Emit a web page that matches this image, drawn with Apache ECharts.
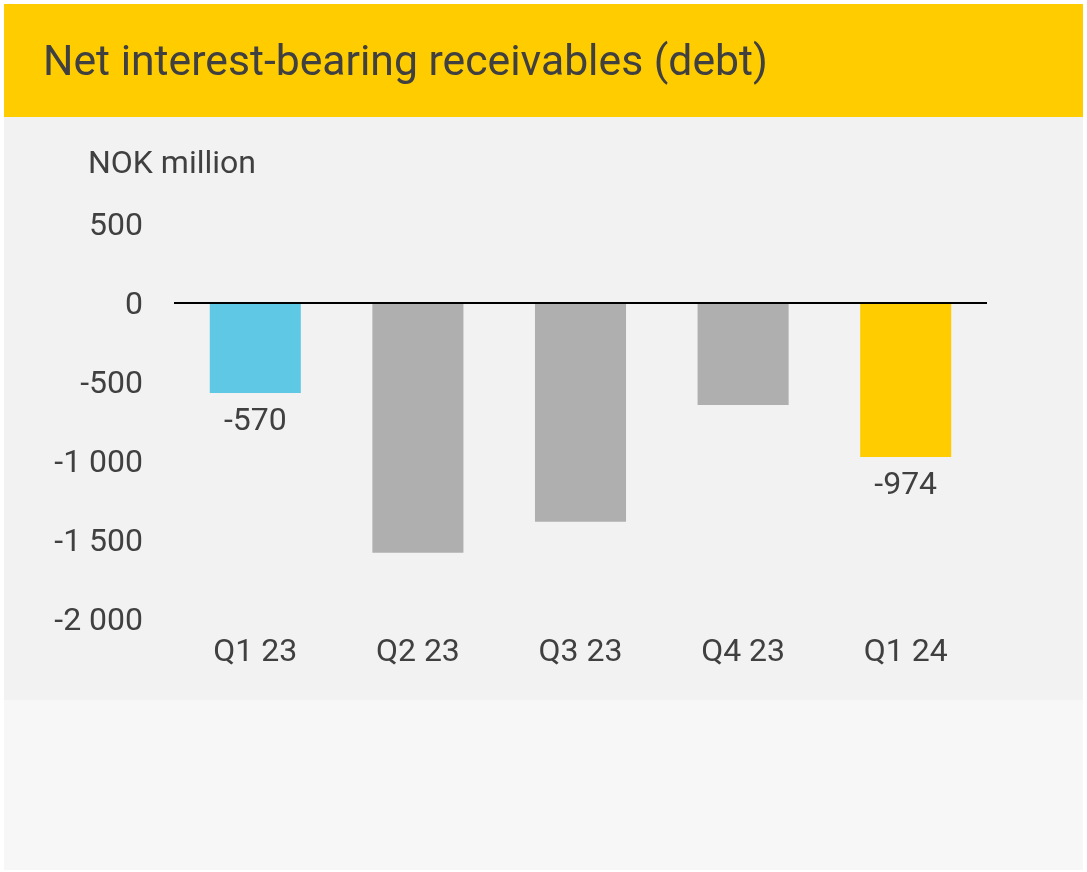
<!DOCTYPE html>
<html>
<head>
<meta charset="utf-8">
<title>Net interest-bearing receivables (debt)</title>
<script src="https://cdn.jsdelivr.net/npm/echarts@6/dist/echarts.min.js"></script>
<style>
  html, body { margin: 0; padding: 0; background: #ffffff; }
  #chart { width: 1087px; height: 872px; }
</style>
</head>
<body>
<div id="chart"></div>
<script>
// Quarterly net interest-bearing receivables (debt), NOK million
const categories = ['Q1 23', 'Q2 23', 'Q3 23', 'Q4 23', 'Q1 24'];
const values = [-570, -1580, -1385, -645, -974];
const barColors = ['#5EC8E5', '#AFAFAF', '#AFAFAF', '#AFAFAF', '#FFCC00'];
// Only the first and latest quarters carry a value label
const labelled = [true, false, false, false, true];
const yTicks = { min: -2000, max: 500, step: 500 };

const titleText = 'Net interest-bearing receivables (debt)';
const unitText = 'NOK million';

const textColor = '#404040';
const fontFamily = 'Roboto, "Open Sans", sans-serif';

// Thousands grouped with a space: -1500 -> "-1 500"
function spaced(v) {
  const s = String(Math.abs(v)).replace(/\B(?=(\d{3})+(?!\d))/g, ' ');
  return (v < 0 ? '-' : '') + s;
}

const chart = echarts.init(document.getElementById('chart'), null, { renderer: 'canvas' });

chart.setOption({
  backgroundColor: '#ffffff',
  animation: false,
  graphic: [
    { type: 'rect', z: -10, shape: { x: 4, y: 4, width: 1079, height: 113 }, style: { fill: '#FFCC00' } },
    { type: 'rect', z: -10, shape: { x: 4, y: 117, width: 1079, height: 583 }, style: { fill: '#F2F2F2' } },
    { type: 'rect', z: -10, shape: { x: 4, y: 700, width: 1079, height: 170 }, style: { fill: '#F7F7F7' } },
    {
      type: 'text', left: 43, top: 43, z: 10,
      style: { text: titleText, fill: textColor, font: '42.7px ' + fontFamily }
    },
    {
      type: 'text', left: 88, top: 149, z: 10,
      style: { text: unitText, fill: textColor, font: '32px ' + fontFamily }
    }
  ],
  grid: { left: 174, right: 100, top: 224, bottom: 253, containLabel: false },
  xAxis: {
    type: 'category',
    data: categories,
    axisLine: { show: false, onZero: false },
    axisTick: { show: false },
    axisLabel: { color: textColor, fontSize: 32, fontFamily: fontFamily, margin: 18 }
  },
  yAxis: {
    type: 'value',
    min: yTicks.min,
    max: yTicks.max,
    interval: yTicks.step,
    splitLine: { show: false },
    axisLine: { show: false },
    axisTick: { show: false },
    axisLabel: {
      color: textColor, fontSize: 32, fontFamily: fontFamily, margin: 31,
      verticalAlign: 'top',
      lineHeight: 6,
      formatter: spaced
    }
  },
  series: [{
    type: 'bar',
    barWidth: '56%',
    data: values.map((v, i) => ({
      value: v,
      itemStyle: { color: barColors[i] },
      label: {
        show: labelled[i],
        position: 'bottom',
        distance: 13,
        color: textColor,
        fontSize: 32,
        fontFamily: fontFamily,
        formatter: (p) => spaced(p.value)
      }
    })),
    markLine: {
      silent: true,
      symbol: 'none',
      label: { show: false },
      lineStyle: { color: '#000000', width: 2, type: 'solid' },
      data: [{ yAxis: 0 }]
    }
  }]
});
</script>
</body>
</html>
